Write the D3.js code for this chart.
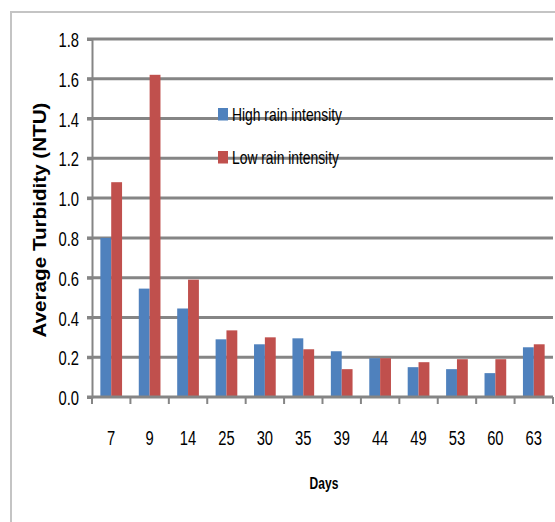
<!DOCTYPE html>
<html>
<head>
<meta charset="utf-8">
<script src="https://cdn.jsdelivr.net/npm/d3@7"></script>
<style>
  html, body { margin: 0; padding: 0; background: #fff; }
  svg { display: block; }
  text { font-family: "Liberation Sans", Arial, sans-serif; fill: #000; }
</style>
</head>
<body>
<svg id="chart" width="555" height="522"></svg>
<script>
const days = ["7", "9", "14", "25", "30", "35", "39", "44", "49", "53", "60", "63"];
const highRain = [0.80, 0.545, 0.445, 0.29, 0.265, 0.295, 0.23, 0.195, 0.15, 0.14, 0.12, 0.25];
const lowRain  = [1.08, 1.62, 0.59, 0.335, 0.30, 0.24, 0.14, 0.195, 0.175, 0.19, 0.19, 0.265];
const seriesNames = ["High rain intensity", "Low rain intensity"];
const seriesColors = ["#4F81BD", "#C0504D"];
const yTicks = [0, 0.2, 0.4, 0.6, 0.8, 1.0, 1.2, 1.4, 1.6, 1.8];
const yTitle = "Average Turbidity  (NTU)";
const xTitle = "Days";

const svg = d3.select("#chart");

// outer chart border (only top & left visible)
svg.append("rect").attr("x", 11).attr("y", 12).attr("width", 600).attr("height", 600)
  .attr("fill", "none").attr("stroke", "#c4c4c4").attr("stroke-width", 2);

const plotLeft = 92, plotRight = 553, plotTop = 39, plotBottom = 397;

const x = d3.scaleBand().domain(days).range([plotLeft, plotRight]).paddingInner(0).paddingOuter(0);
const x1 = d3.scaleBand().domain(seriesNames).range([0, x.bandwidth()]).paddingInner(0).paddingOuter(0.77);
const y = d3.scaleLinear().domain([0, 1.8]).range([plotBottom, plotTop]);

// gridlines
svg.append("g").selectAll("line").data(yTicks.filter(d => d > 0)).join("line")
  .attr("x1", plotLeft - 5).attr("x2", plotRight)
  .attr("y1", d => y(d)).attr("y2", d => y(d))
  .attr("stroke", "#858585").attr("stroke-width", 3);

// bars
const rows = days.map((d, i) => ({ day: d, values: [highRain[i], lowRain[i]] }));
const groups = svg.append("g").selectAll("g").data(rows).join("g")
  .attr("transform", d => `translate(${x(d.day)},0)`);
groups.selectAll("rect").data(d => d.values.map((v, k) => ({ v, k }))).join("rect")
  .attr("x", d => x1(seriesNames[d.k]))
  .attr("width", x1.bandwidth())
  .attr("y", d => y(d.v))
  .attr("height", d => y(0) - y(d.v))
  .attr("fill", d => seriesColors[d.k]);

// y axis
const yAxis = svg.append("g").attr("transform", `translate(${plotLeft},0)`)
  .call(d3.axisLeft(y).tickValues(yTicks).tickFormat(d3.format(".1f")).tickSize(5).tickPadding(0));
yAxis.select(".domain").attr("stroke", "#858585").attr("stroke-width", 2);
yAxis.selectAll(".tick line").attr("stroke", "#858585").attr("stroke-width", 3);
yAxis.selectAll(".tick text")
  .attr("x", -13 / 0.72).attr("dy", "0.37em")
  .attr("transform", "scale(0.72,1)")
  .style("font-size", "20.5px").style("font-family", "'Liberation Sans', Arial, sans-serif")
  .attr("fill", "#000");

// x axis
const xAxis = svg.append("g").attr("transform", `translate(0,${plotBottom})`)
  .call(d3.axisBottom(x).tickSize(0).tickPadding(0));
xAxis.select(".domain").remove();
svg.append("line").attr("x1", plotLeft - 5).attr("x2", plotRight)
  .attr("y1", plotBottom).attr("y2", plotBottom)
  .attr("stroke", "#858585").attr("stroke-width", 3);
const boundaries = days.map(d => x(d)).concat([x(days[days.length - 1]) + x.bandwidth()]);
svg.append("g").selectAll("line").data(boundaries).join("line")
  .attr("x1", d => d).attr("x2", d => d)
  .attr("y1", plotBottom).attr("y2", plotBottom + 7)
  .attr("stroke", "#858585").attr("stroke-width", 2);
xAxis.selectAll(".tick text")
  .attr("y", 48.5).attr("dy", 0)
  .attr("x", 0)
  .style("font-size", "20.5px").style("font-family", "'Liberation Sans', Arial, sans-serif")
  .attr("fill", "#000");
xAxis.selectAll(".tick").each(function(d) {
  const cx = x(d) + x.bandwidth() / 2;
  d3.select(this).attr("transform", `translate(${cx},0)`);
  d3.select(this).select("text").attr("transform", "scale(0.72,1)");
});

// axis titles
svg.append("text").attr("transform", "translate(46,220) rotate(-90)")
  .attr("text-anchor", "middle").attr("textLength", 235).attr("lengthAdjust", "spacingAndGlyphs")
  .style("font-size", "17.5px").style("font-weight", "bold").text(yTitle);

svg.append("text").attr("transform", "translate(324,489) scale(0.73,1)")
  .attr("text-anchor", "middle")
  .style("font-size", "16.5px").style("font-weight", "bold").text(xTitle);

// legend
const legendY = [108, 151];
const legend = svg.append("g").selectAll("g").data(seriesNames).join("g")
  .attr("transform", (d, i) => `translate(218,${legendY[i]})`);
legend.append("rect").attr("width", 10).attr("height", 12.5).attr("fill", (d, i) => seriesColors[i]);
legend.append("text").attr("transform", "translate(14,12.5) scale(0.77,1)")
  .style("font-size", "18px").text(d => d);
</script>
</body>
</html>
